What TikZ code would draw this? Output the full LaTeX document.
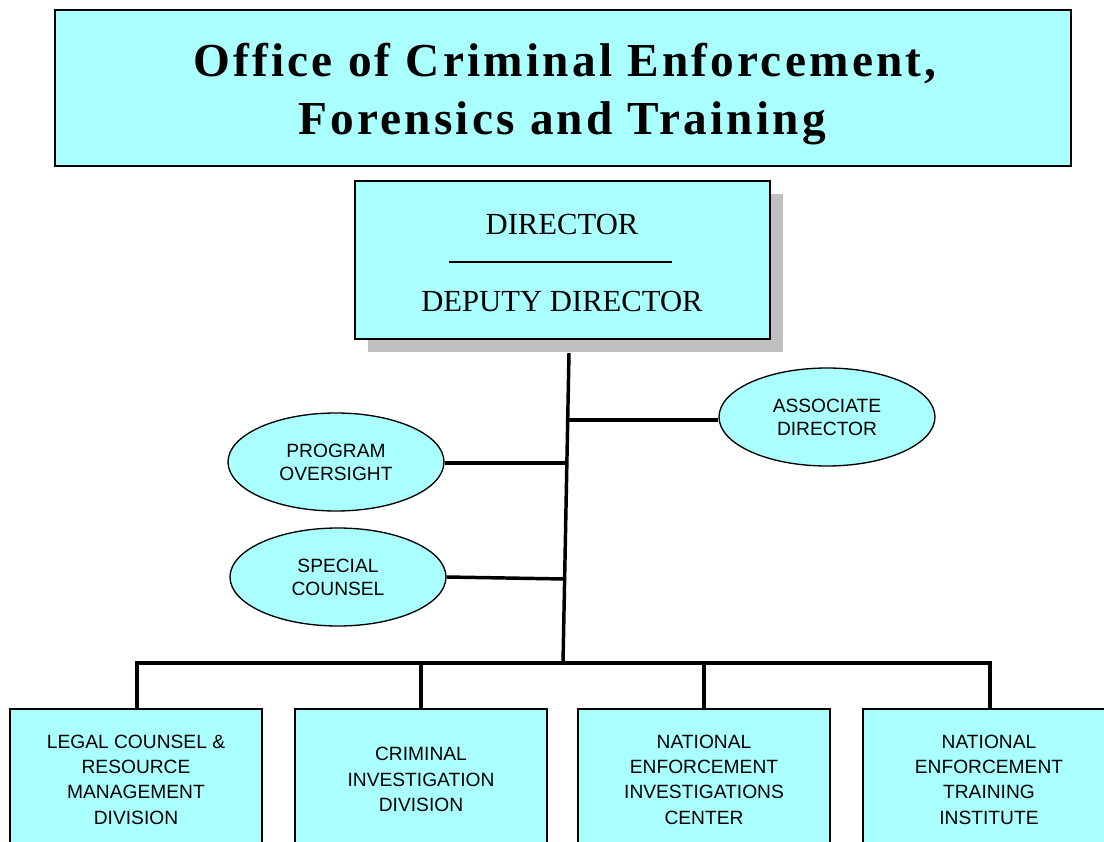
\documentclass[tikz,border=0pt]{standalone}
\usepackage{fontspec}
\setmainfont{Liberation Serif}
\newfontfamily\arialf{Liberation Sans}
\newfontfamily\titlef[LetterSpace=6.8]{Liberation Serif Bold}
\usetikzlibrary{shapes.geometric}
\definecolor{boxcyan}{RGB}{170,255,255}
\definecolor{shadowgray}{RGB}{192,192,192}
\tikzset{
  conn/.style={line width=2.6pt, black},
  cyanbox/.style={draw=black, line width=1pt, fill=boxcyan, rectangle, inner sep=0pt},
  oval/.style={draw=black, line width=1pt, fill=boxcyan, ellipse, inner sep=0pt,
    minimum width=162pt, minimum height=73.5pt, align=center,
    font=\arialf\fontsize{14.4}{17.3}\selectfont},
  unitbox/.style={cyanbox, minimum width=189pt, minimum height=105.75pt, align=center,
    font=\arialf\fontsize{14.4}{19}\selectfont},
  dirtext/.style={font=\fontsize{23}{26}\selectfont, inner sep=0pt},
  titletext/.style={font=\titlef\fontsize{35.5}{43}\selectfont, inner sep=0pt, anchor=base}
}
\begin{document}
\begin{tikzpicture}[x=0.75pt, y=-0.75pt]
\useasboundingbox (0,0) rectangle (1104,842);
\clip (0,0) rectangle (1104,842);
% title
\node[cyanbox, minimum width=762pt, minimum height=117pt] (title) at (563,88) {};
\node[titletext] (title1) at (565,77) {Office of Criminal Enforcement,};
\node[titletext] (title2) at (562,134) {Forensics and Training};
% director with shadow
\fill[shadowgray] (368,194) rectangle (783,352);
\node[cyanbox, minimum width=311.25pt, minimum height=118.5pt] (dir) at (562.5,260) {};
\node[dirtext] (dirname) at (562,224) {DIRECTOR};
\node[dirtext] (depname) at (562,301) {DEPUTY DIRECTOR};
\coordinate (ruleL) at (449,262);
\coordinate (ruleR) at (672,262);
\draw[line width=0.8pt] (ruleL) -- (ruleR);
% trunk
\coordinate (trunktop) at (569,353);
\coordinate (trunkbot) at (563,663);
\draw[conn] (trunktop) -- (trunkbot);
% ellipses
\node[oval] (assoc) at (827,417) {ASSOCIATE\\DIRECTOR};
\node[oval] (prog) at (336,462) {PROGRAM\\OVERSIGHT};
\node[oval] (spec) at (338,577) {SPECIAL\\COUNSEL};
\coordinate (jA) at (568.6,420);
\coordinate (jP) at (567.0,463);
\coordinate (jS) at (564.8,579);
\draw[conn] (jA) -- (jA -| assoc.west);
\draw[conn] (prog.east |- jP) -- (jP);
\draw[conn] (spec.east) -- (jS);
% bottom units
\node[unitbox] (legal) at (136,779.5) {LEGAL COUNSEL \&\\RESOURCE\\MANAGEMENT\\DIVISION};
\node[unitbox] (cid) at (421,779.5) {CRIMINAL\\INVESTIGATION\\DIVISION};
\node[unitbox] (neic) at (704,779.5) {NATIONAL\\ENFORCEMENT\\INVESTIGATIONS\\CENTER};
\node[unitbox] (neti) at (989,779.5) {NATIONAL\\ENFORCEMENT\\TRAINING\\INSTITUTE};
\coordinate (barL) at (137,663);
\coordinate (barR) at (990,663);
\draw[conn, line cap=rect] (barL) -- (barR);
\draw[conn] (barL) -- (barL |- legal.north);
\draw[conn] (cid.north |- barL) -- (cid.north);
\draw[conn] (neic.north |- barL) -- (neic.north);
\draw[conn] (barR) -- (barR |- neti.north);
\end{tikzpicture}
\end{document}
